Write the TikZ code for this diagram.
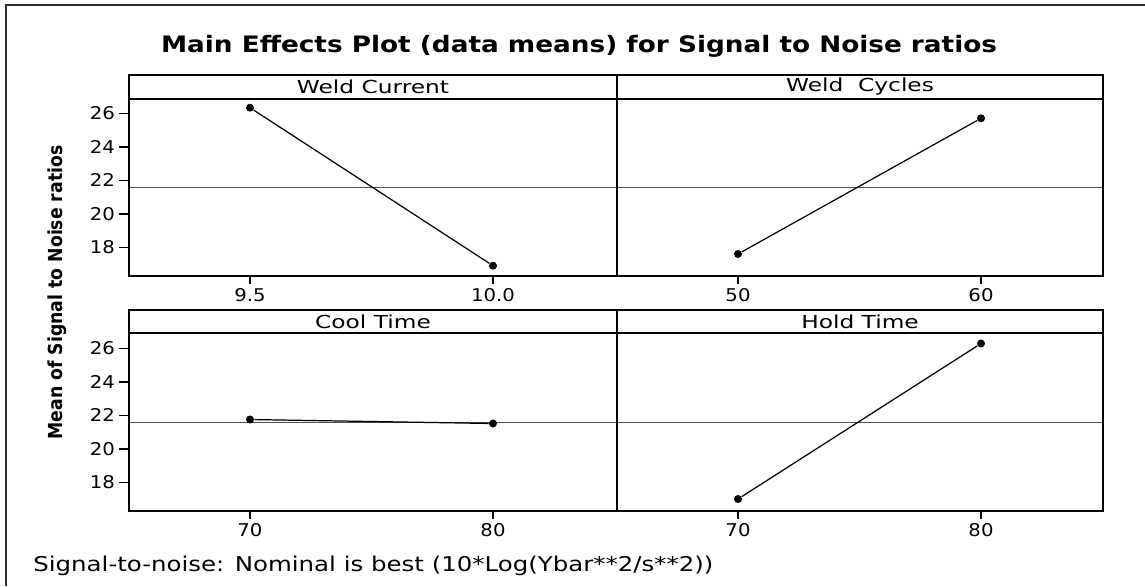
\documentclass[tikz,border=0pt]{standalone}
\usepackage{fontspec}
\setmainfont{DejaVu Sans}
\usepackage{xcolor}
\definecolor{cInk}{HTML}{000000}
\definecolor{cMean}{HTML}{505050}
\definecolor{cFrame}{HTML}{303030}
\usepackage{tikz}
\usetikzlibrary{positioning}
\tikzset{
  panel-box/.style={draw=cInk,line width=1.2pt},
  strip-line/.style={draw=cInk,line width=1.1pt},
  mean-line/.style={draw=cMean,line width=0.8pt},
  effect-line/.style={draw=cInk,line width=0.7pt},
  point-dot/.style={circle,fill=cInk,inner sep=0pt,minimum size=0.16cm},
  tick-mark/.style={draw=cInk,line width=0.8pt},
  tick-label/.style={font=\fontsize{10}{12}\selectfont,inner sep=1pt},
  strip-label/.style={font=\fontsize{10.2}{12}\selectfont,inner sep=0pt},
}
\newcommand{\widetext}[2]{\scalebox{#1}[1]{#2}}

\begin{document}
\begin{tikzpicture}[x=0.02cm,y=-0.02cm]
  \useasboundingbox (0,0) rectangle (1145,586);
  % outer frame (only top and left visible)
  \draw[cFrame,line width=1.1pt] (6,586) -- (6,5) -- (1145,5);

  \node[font=\bfseries\fontsize{12.9}{15}\selectfont] (title) at (579,46)
    {\widetext{1.16}{Main Effects Plot (data means) for Signal to Noise ratios}};

  % panels
  \draw[mean-line] (129,187.7) -- (1103,187.7);
  \draw[mean-line] (129,422.7) -- (1103,422.7);
  \draw[panel-box] (129,75) rectangle (1103,276);
  \draw[panel-box] (129,310) rectangle (1103,511);
  \draw[panel-box] (617,75) -- (617,276);
  \draw[panel-box] (617,310) -- (617,511);
  \draw[strip-line] (129,99) -- (1103,99);
  \draw[strip-line] (129,333) -- (1103,333);

  \node[strip-label] (s1) at (373,87) {\widetext{1.3}{Weld Current}};
  \node[strip-label] (s2) at (860,87) {\widetext{1.3}{Weld\ \ Cycles}};
  \node[strip-label] (s3) at (373,321.5) {\widetext{1.3}{Cool Time}};
  \node[strip-label] (s4) at (860,321.5) {\widetext{1.3}{Hold Time}};

  % y axes
  \foreach \v in {26,24,22,20,18} {
    \draw[tick-mark] (119,{113.3+(26-\v)*16.75}) -- (129,{113.3+(26-\v)*16.75});
    \node[tick-label,anchor=east] at (117,{113.3+(26-\v)*16.75}) {\widetext{1.12}{\v}};
    \draw[tick-mark] (119,{348.3+(26-\v)*16.75}) -- (129,{348.3+(26-\v)*16.75});
    \node[tick-label,anchor=east] at (117,{348.3+(26-\v)*16.75}) {\widetext{1.12}{\v}};
  }

  % x axes
  \foreach \x/\a/\b in {250/9.5/70,493/10.0/80,738/50/70,981/60/80} {
    \draw[tick-mark] (\x,276) -- (\x,284);
    \node[tick-label,anchor=north] at (\x,286) {\widetext{1.12}{\a}};
    \draw[tick-mark] (\x,511) -- (\x,519);
    \node[tick-label,anchor=north] at (\x,521) {\widetext{1.12}{\b}};
  }

  % data means
  \node[point-dot] (wc1) at (250,107.7) {};
  \node[point-dot] (wc2) at (493,265.7) {};
  \node[point-dot] (cy1) at (738,254) {};
  \node[point-dot] (cy2) at (981,118.3) {};
  \node[point-dot] (ct1) at (250,419.5) {};
  \node[point-dot] (ct2) at (493,423.5) {};
  \node[point-dot] (ht1) at (738,499) {};
  \node[point-dot] (ht2) at (981,343.5) {};

  \draw[effect-line] (wc1) -- (wc2);
  \draw[effect-line] (cy1) -- (cy2);
  \draw[effect-line] (ct1) -- (ct2);
  \draw[effect-line] (ht1) -- (ht2);

  \node[rotate=90,font=\bfseries\fontsize{11}{13}\selectfont] (ylab) at (57,292.5)
    {\widetext{0.895}{Mean of Signal to Noise ratios}};

  \node[font=\fontsize{11.6}{14}\selectfont,inner sep=0pt,anchor=base west] (note) at (33,571.7)
    {\widetext{1.2}{Signal-to-noise: Nominal is best (10*Log(Ybar**2/s**2))}};
\end{tikzpicture}
\end{document}
